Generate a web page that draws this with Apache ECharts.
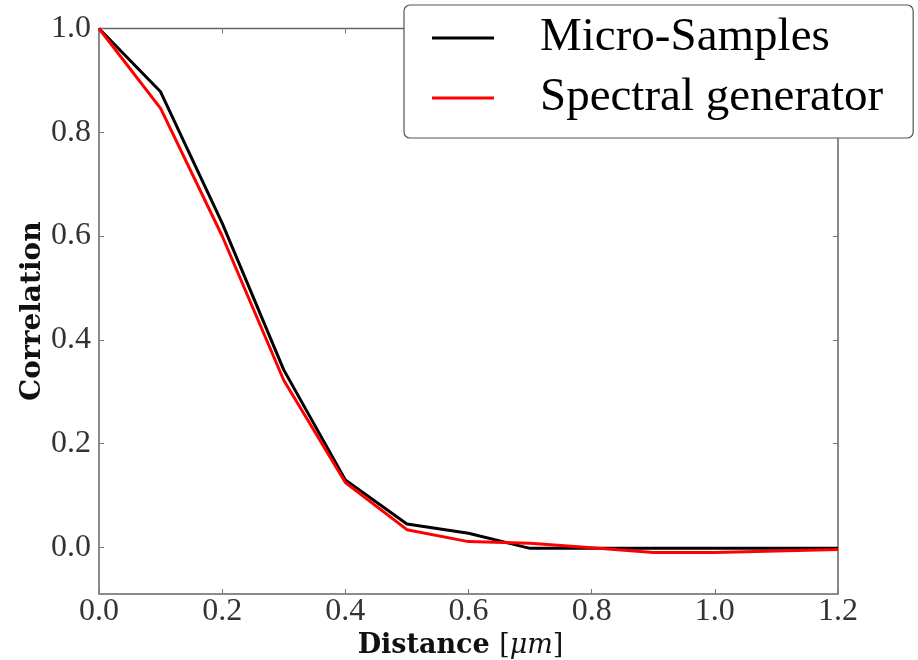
<!DOCTYPE html>
<html>
<head>
<meta charset="utf-8">
<script src="https://cdn.jsdelivr.net/npm/echarts@6/dist/echarts.min.js"></script>
<style>html,body{margin:0;padding:0;background:#fff}#c{width:918px;height:660px}</style>
</head>
<body>
<div id="c"></div>
<script>
const distance = [0.0, 0.1, 0.2, 0.3, 0.4, 0.5, 0.6, 0.7, 0.8, 0.9, 1.0, 1.1, 1.2];
const microSamples = [1.0, 0.878, 0.625, 0.342, 0.130, 0.045, 0.027, -0.002, -0.002, -0.002, -0.002, -0.002, -0.002];
const spectralGenerator = [1.0, 0.846, 0.600, 0.322, 0.125, 0.034, 0.011, 0.008, -0.001, -0.010, -0.010, -0.007, -0.004];
const xTicks = [0.0, 0.2, 0.4, 0.6, 0.8, 1.0, 1.2];
const yTicks = [0.0, 0.2, 0.4, 0.6, 0.8, 1.0];

const chart = echarts.init(document.getElementById('c'), null, {renderer: 'canvas'});
const tickFont = {fontFamily: '"Liberation Serif", serif', fontSize: 32, color: '#333'};
const pairs = arr => distance.map((d, i) => [d, arr[i]]);
const tickStyle = vals => ({show: true, inside: true, length: 5, lineStyle: {color: '#777'}, customValues: vals});

chart.setOption({
  animation: false,
  backgroundColor: '#fff',
  grid: {left: 99, top: 28.5, right: 80, bottom: 66, show: true, borderColor: '#666', borderWidth: 1.5, outerBoundsMode: 'none'},
  legend: {
    left: 404, top: 5, orient: 'vertical',
    backgroundColor: '#fff', borderColor: '#555', borderWidth: 1.2, borderRadius: 6,
    padding: [8, 30, 15, 28],
    icon: 'rect', itemWidth: 62, itemHeight: 3, itemGap: 10,
    textStyle: {fontFamily: '"Liberation Serif", serif', fontSize: 47, color: '#000', lineHeight: 50, padding: [0, 0, 0, 41]},
    data: ['Micro-Samples', 'Spectral generator']
  },
  xAxis: [{
    type: 'value', min: 0, max: 1.2, position: 'bottom',
    axisLine: {show: false, onZero: false}, splitLine: {show: false},
    axisTick: tickStyle(xTicks),
    axisLabel: Object.assign({margin: 2, customValues: xTicks, formatter: v => v.toFixed(1)}, tickFont),
    name: '{b|Distance }{n|[}{i|μm}{n|]}', nameLocation: 'middle', nameGap: 21,
    nameTextStyle: {padding: [0, 16, 0, 0], rich: {
      b: {fontFamily: '"DejaVu Serif", serif', fontWeight: 'bold', fontSize: 27, color: '#111'},
      n: {fontFamily: '"DejaVu Serif", serif', fontSize: 27, color: '#111'},
      i: {fontFamily: '"DejaVu Serif", serif', fontStyle: 'italic', fontSize: 27, color: '#111'}
    }}
  }, {
    type: 'value', min: 0, max: 1.2, position: 'top',
    axisLine: {show: false, onZero: false}, splitLine: {show: false}, axisLabel: {show: false},
    axisTick: tickStyle(xTicks)
  }],
  yAxis: [{
    type: 'value', min: -0.09, max: 1.0, position: 'left',
    axisLine: {show: false, onZero: false}, splitLine: {show: false},
    axisTick: tickStyle(yTicks),
    axisLabel: Object.assign({margin: 8, customValues: yTicks, formatter: v => v.toFixed(1)}, tickFont),
    name: 'Correlation', nameLocation: 'middle', nameGap: 52, nameMoveOverlap: false,
    nameTextStyle: {fontFamily: '"DejaVu Serif", serif', fontWeight: 'bold', fontSize: 28, color: '#111'}
  }, {
    type: 'value', min: -0.09, max: 1.0, position: 'right',
    axisLine: {show: false, onZero: false}, splitLine: {show: false}, axisLabel: {show: false},
    axisTick: tickStyle(yTicks)
  }],
  series: [{
    name: 'Micro-Samples', type: 'line', symbol: 'none', data: pairs(microSamples),
    lineStyle: {color: '#000', width: 3}, itemStyle: {color: '#000'}, z: 2
  }, {
    name: 'Spectral generator', type: 'line', symbol: 'none', data: pairs(spectralGenerator),
    lineStyle: {color: '#ff0000', width: 3}, itemStyle: {color: '#ff0000'}, z: 3
  }]
});
</script>
</body>
</html>
